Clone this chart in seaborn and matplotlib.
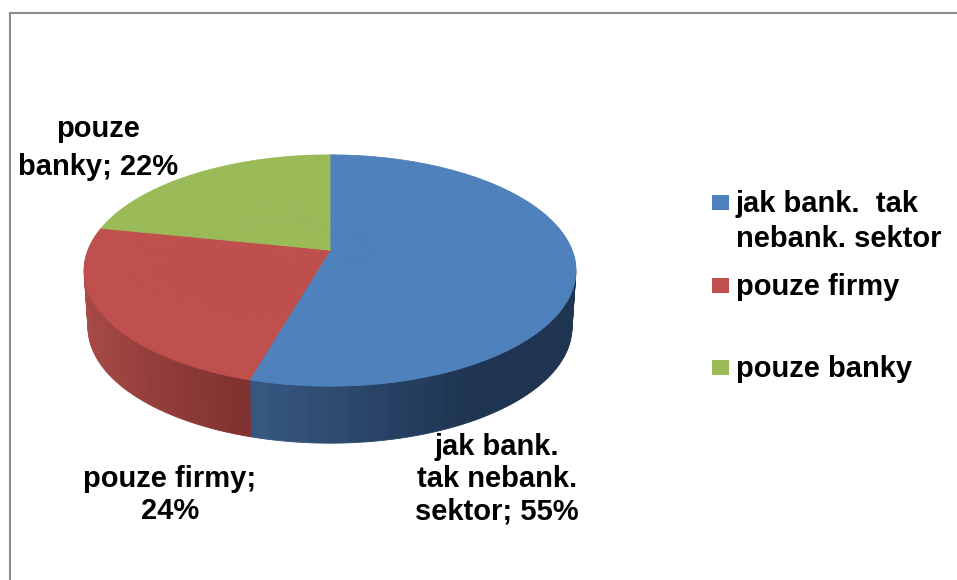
import matplotlib
matplotlib.use('Agg')
import matplotlib.pyplot as plt
import numpy as np
import seaborn as sns
from matplotlib.patches import Rectangle
from matplotlib.transforms import Transform

shares = [55, 24, 22]
data_labels = ['jak bank.\ntak nebank.\nsektor; 55%', 'pouze firmy;\n24%', 'pouze\nbanky; 22%']
legend_labels = ['jak bank.  tak\nnebank. sektor', 'pouze firmy', 'pouze banky']
top_colors = ['#4f81bd', '#c0504d', '#9bbb59']
side_colors = [['#3a5b87', '#1e3450'], ['#ab4c49', '#7f322f'], ['#7c9647', '#5f7336']]

sns.set_theme(style='white')
plt.rcParams['font.family'] = ['Liberation Sans', 'DejaVu Sans']


class Tilt(Transform):
    # unit pie -> pixels, with the perspective of the 3d pie
    input_dims = 2
    output_dims = 2
    has_inverse = False
    is_affine = False

    def __init__(self, drop=0):
        super().__init__()
        self.drop = drop

    def transform_non_affine(self, xy):
        xy = np.asarray(xy, dtype=float)
        w = 1 + 0.1775 * xy[:, 1]
        # lower rim comes out a bit narrower
        sx = 242 * (1 - 0.016 * self.drop / 57)
        return np.column_stack([330 + sx * xy[:, 0] / w, 250 - 112 * xy[:, 1] / w + self.drop])


def pie_layer(ax, colors_per_slice, drop):
    # every slice cut in thin pieces so the side can be shaded
    n = 50
    sizes = []
    colors = []
    for v, cols in zip(shares, colors_per_slice):
        sizes += [v / n] * n
        colors += cols
    wedges, _ = ax.pie(sizes, colors=colors, startangle=90, counterclock=False,
                       wedgeprops={'linewidth': 0.6})
    for w in wedges:
        w.set_edgecolor(w.get_facecolor())
        w.set_transform(Tilt(drop) + ax.transData)


fig = plt.figure(figsize=(9.57, 5.8), dpi=100)
ax = fig.add_axes([0, 0, 1, 1])

# side colours follow the horizontal position on the rim
total = sum(shares)
side = []
start = 0
for v, pair in zip(shares, side_colors):
    ramp = sns.blend_palette(pair, 64)
    angles = np.radians(360 * (start + v * (np.arange(50) + 0.5) / 50) / total)
    pos = np.sin(angles)
    if pair is side_colors[0]:
        t = np.clip((pos + 0.35) / 0.85, 0, 1)
    else:
        t = np.clip((pos + 1) / 0.7, 0, 1)
    side.append([ramp[int(i * 63)] for i in t])
    start += v

for drop in np.arange(57, 0, -2):
    pie_layer(ax, side, drop)
pie_layer(ax, [[c] * 50 for c in top_colors], 0)

ax.set_aspect('auto')
ax.set_xlim(0, 957)
ax.set_ylim(580, 0)
ax.axis('off')

# chart frame
ax.plot([9.5, 9.5, 957], [580, 12.5, 12.5], color='#8c8c8c', lw=1.5, solid_joinstyle='miter')

fs = 21
pos_labels = [(497, 479), (170, 495), (98, 148)]
spacing = [1.2, 1.2, 1.45]
for lab, (x, y), sp in zip(data_labels, pos_labels, spacing):
    ax.text(x, y, lab, ha='center', va='center', fontsize=fs, fontweight='bold',
            color='black', linespacing=sp)

for lab, c, y in zip(legend_labels, top_colors, [202, 285, 367]):
    ax.add_patch(Rectangle((712, y - 7.5), 17, 15, color=c, lw=0))
    ax.text(735.5, y - 12, lab, ha='left', va='top', fontsize=fs, fontweight='bold',
            color='black', linespacing=1.3)

fig.savefig('out.png', dpi=100)
